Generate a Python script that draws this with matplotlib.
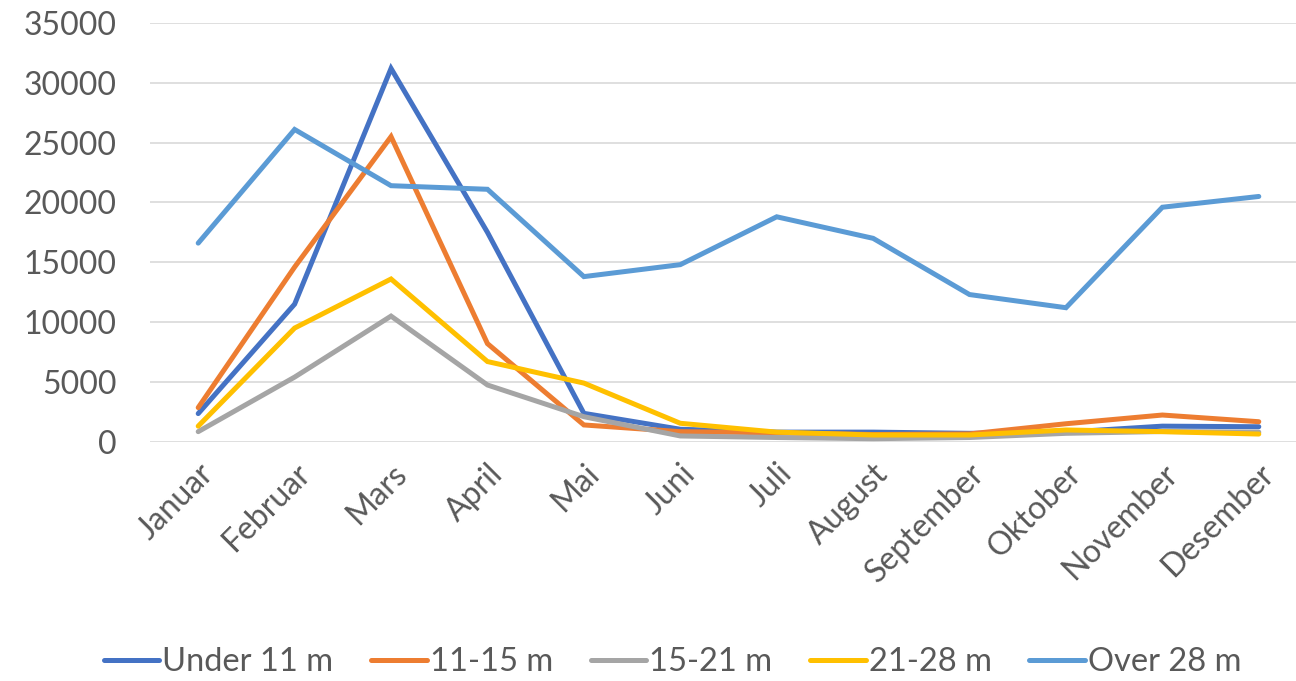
import matplotlib.pyplot as plt
import numpy as np

plt.rcParams['font.family'] = ['Lato', 'DejaVu Sans']

months = ['Januar', 'Februar', 'Mars', 'April', 'Mai', 'Juni', 'Juli',
          'August', 'September', 'Oktober', 'November', 'Desember']

under_11 = [2350, 11500, 31200, 17500, 2370, 1040, 800, 800, 700, 800, 1300, 1250]
m11_15 = [2850, 14600, 25500, 8200, 1400, 840, 740, 600, 650, 1500, 2230, 1670]
m15_21 = [840, 5400, 10500, 4740, 2090, 480, 350, 250, 350, 700, 850, 800]
m21_28 = [1300, 9500, 13600, 6700, 4900, 1540, 800, 560, 560, 980, 840, 640]
over_28 = [16600, 26100, 21400, 21100, 13800, 14800, 18800, 17000, 12300, 11200, 19600, 20500]

series = [
    ('Under 11 m', under_11, '#4472C4'),
    ('11-15 m', m11_15, '#ED7D31'),
    ('15-21 m', m15_21, '#A5A5A5'),
    ('21-28 m', m21_28, '#FFC000'),
    ('Over 28 m', over_28, '#5B9BD5'),
]

fig = plt.figure(figsize=(12.96, 6.81), dpi=100)
ax = fig.add_axes([150 / 1296, 1 - 441.7 / 681, 1157 / 1296, 418.7 / 681])

x = np.arange(len(months))
for name, vals, col in series:
    ax.plot(x, vals, color=col, lw=3.6, label=name, solid_capstyle='round',
            solid_joinstyle='miter')

ax.set_xlim(-0.5, 11.5)
ax.set_ylim(0, 35000)
ax.set_yticks(range(0, 35001, 5000))
ax.set_xticks(x)
ax.set_xticklabels(months, rotation=45, ha='right', rotation_mode='anchor')
ax.tick_params(axis='both', length=0, labelsize=23, labelcolor='#595959')
ax.tick_params(axis='x', pad=12)
ax.tick_params(axis='y', pad=24)
ax.grid(axis='y', color='#D9D9D9', lw=1.2)
ax.set_axisbelow(True)
for s in ax.spines.values():
    s.set_visible(False)

leg = fig.legend(loc='center', bbox_to_anchor=(0.519, 1 - 662 / 681), ncol=5,
                 frameon=False, fontsize=23.5, handlelength=1.7, handletextpad=0.1,
                 columnspacing=1.15)
for t in leg.get_texts():
    t.set_color('#595959')

fig.savefig('out.png', dpi=100)
